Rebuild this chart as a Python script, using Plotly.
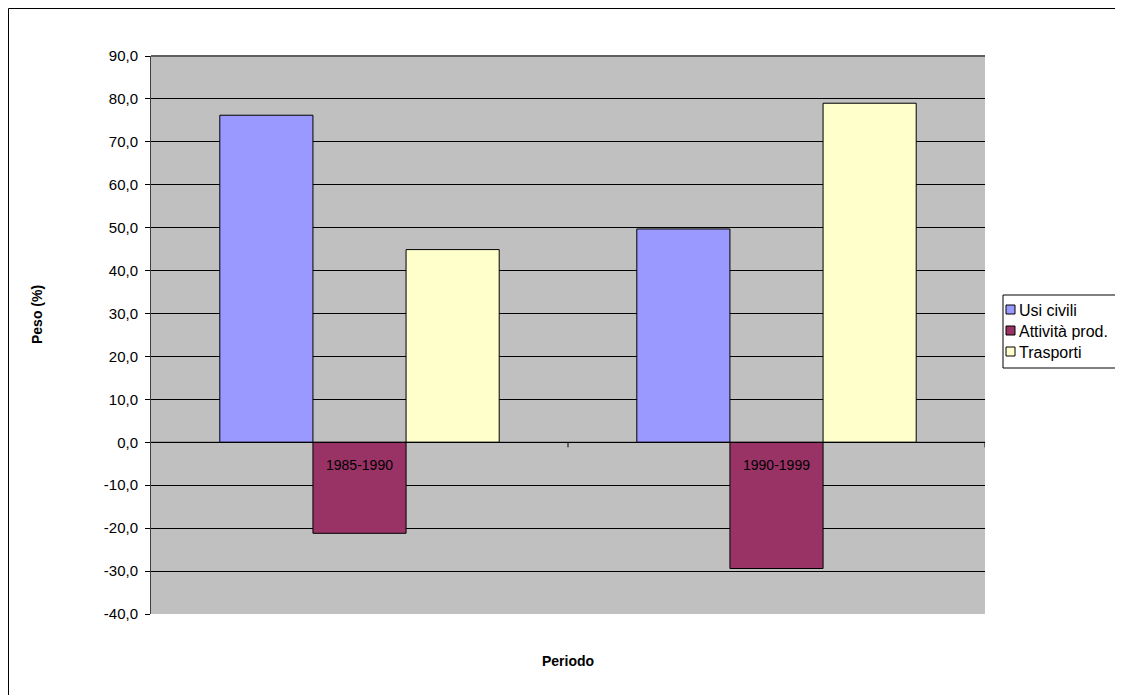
import plotly.graph_objects as go

categories = ["1985-1990", "1990-1999"]
series_names = ["Usi civili", "Attività prod.", "Trasporti"]
usi_civili = [76.2, 49.7]
attivita_prod = [-21.2, -29.4]
trasporti = [44.9, 79.0]
colors = ["#9999FF", "#993366", "#FFFFCC"]
y_ticks = [90, 80, 70, 60, 50, 40, 30, 20, 10, 0, -10, -20, -30, -40]
y_tick_labels = [f"{v:.1f}".replace(".", ",") for v in y_ticks]

OFF = 8  # page body margin
W, H = 1123 - OFF, 695 - OFF
# plot area in page pixels
PL, PR, PT, PB = 151, 985, 56, 614
L, R, T, B = PL - OFF, W - (PR - OFF), PT - OFF, H - (PB - OFF)
FONT = "Liberation Sans, Arial, sans-serif"

fig = go.Figure()
for name, vals, col in zip(series_names, [usi_civili, attivita_prod, trasporti], colors):
    fig.add_trace(go.Bar(
        x=categories, y=vals, name=name, showlegend=False,
        marker=dict(color=col, line=dict(color="black", width=1)),
    ))

def px_x(p):
    return (p - PL) / (PR - PL)

def px_y(p):
    return (PB - p) / (PB - PT)

shapes = []
# outer chart border (left/top visible, right/bottom off-canvas)
shapes.append(dict(type="rect", xref="paper", yref="paper",
                   x0=px_x(OFF + 0.5), x1=px_x(1140), y0=px_y(OFF + 0.5), y1=px_y(710),
                   line=dict(color="black", width=1), fillcolor="rgba(0,0,0,0)", layer="below"))
# plot area top border
shapes.append(dict(type="line", xref="paper", yref="paper", x0=0, x1=1, y0=1, y1=1,
                   line=dict(color="#606060", width=2)))
# zero axis line
shapes.append(dict(type="line", xref="paper", yref="y", x0=0, x1=1, y0=0, y1=0,
                   line=dict(color="black", width=1)))
# category tick marks
for xv in [0.5, 1.5]:
    shapes.append(dict(type="line", xref="x", yref="y",
                       ysizemode="pixel", yanchor=0, x0=xv, x1=xv, y0=0, y1=-5,
                       line=dict(color="black", width=1)))

annotations = []
for c in categories:
    annotations.append(dict(x=c, y=0, xref="x", yref="y", text=c, showarrow=False,
                            yanchor="middle", yshift=-23,
                            font=dict(family=FONT, size=14, color="black")))

# axis titles
annotations.append(dict(x=px_x(568), y=px_y(661), xref="paper", yref="paper",
                        text="<b>Periodo</b>", showarrow=False,
                        xanchor="center", yanchor="middle",
                        font=dict(family=FONT, size=14, color="black")))
annotations.append(dict(x=px_x(37), y=px_y(314), xref="paper", yref="paper",
                        text="<b>Peso (%)</b>", showarrow=False, textangle=-90,
                        xanchor="center", yanchor="middle",
                        font=dict(family=FONT, size=14, color="black")))

# custom legend
shapes.append(dict(type="rect", xref="paper", yref="paper",
                   x0=px_x(1003), x1=px_x(1140), y0=px_y(295), y1=px_y(368),
                   line=dict(color="black", width=1), fillcolor="white"))
item_y = [310, 331, 352]
for name, col, yy in zip(series_names, colors, item_y):
    shapes.append(dict(type="rect", xref="paper", yref="paper",
                       x0=px_x(1006), x1=px_x(1015), y0=px_y(yy - 5), y1=px_y(yy + 4),
                       line=dict(color="black", width=1), fillcolor=col))
    annotations.append(dict(x=px_x(1017), y=px_y(yy), xref="paper", yref="paper",
                            text=name, showarrow=False, xanchor="left", yanchor="middle",
                            font=dict(family=FONT, size=16, color="black")))

fig.update_layout(
    width=W, height=H,
    margin=dict(l=L, r=R, t=T, b=B, pad=0, autoexpand=False),
    paper_bgcolor="white", plot_bgcolor="#C0C0C0",
    barmode="group", bargap=0.33, bargroupgap=0,
    font=dict(family=FONT, size=15, color="black"),
    showlegend=False,
    shapes=shapes, annotations=annotations,
    xaxis=dict(showticklabels=False, showgrid=False, zeroline=False, ticks="",
               range=[-0.5, 1.5], showline=False),
    yaxis=dict(range=[-40, 90], tickmode="array", tickvals=y_ticks, ticktext=y_tick_labels,
               showgrid=True, gridcolor="black", gridwidth=1,
               zeroline=False, showline=True, linecolor="#404040", linewidth=1,
               ticks="outside", ticklen=5, tickcolor="black",
               ticklabelstandoff=4,
               tickfont=dict(size=15, family=FONT)),
)

fig.write_html("out.html")
